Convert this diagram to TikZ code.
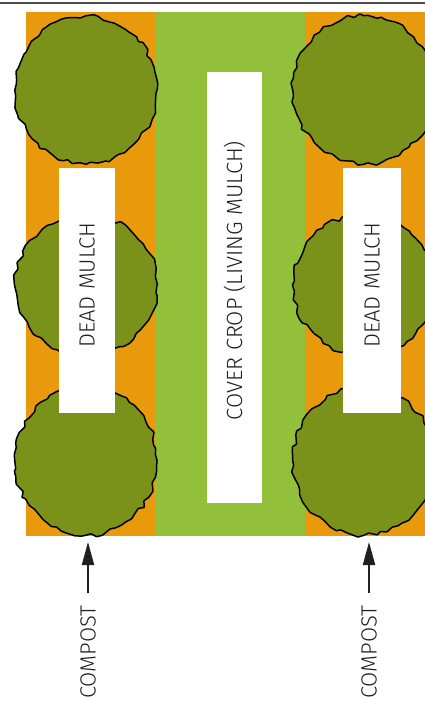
\documentclass[tikz,border=0pt]{standalone}
\usepackage{fontspec}
\setmainfont{Fira Sans}[UprightFont={* Light}]
\usetikzlibrary{arrows.meta,decorations.pathmorphing}
\definecolor{mulchorange}{HTML}{E99A0C}
\definecolor{covergreen}{HTML}{93C03B}
\definecolor{treegreen}{HTML}{7A921A}
\definecolor{inkgray}{HTML}{231F20}

\begin{document}
\begin{tikzpicture}[x=1pt,y=-1pt,
    labelbox/.style={fill=white,rotate=90,inner sep=0pt,text=inkgray,font=\fontsize{22}{24}\selectfont},
    treetop/.style={fill=treegreen,draw=black,line width=1.5pt,rounded corners=0.6pt,
        decorate,decoration={random steps,segment length=6pt,amplitude=2.2pt}},
    compostarrow/.style={-{Triangle[length=23pt,width=12pt]},line width=2pt,inkgray,shorten <=12pt}]
    \clip (0,0) rectangle (425,702);
    % rule along the top
    \draw[gray!60!black,line width=1.2pt] (0,3) -- (425,3);

    % Beds: mulch strips and the cover crop between them
    \fill[mulchorange] (26,12) rectangle (155,536);
    \fill[covergreen] (155,12) rectangle (305,536);
    \fill[mulchorange] (305,12) rectangle (425,536);

    % Tree canopies
    \pgfmathsetseed{23}
    \foreach \cx in {86,364} {
        \foreach \cy/\r in {90/74,285/70,461/74} {
            \draw[treetop] (\cx,\cy) ellipse [x radius=71, y radius=\r];
        }
    }

    % Strip labels (text sits a little above the middle of each box)
    \node[labelbox,minimum width=245,minimum height=56] (dead1) at (87,290.5) {\hspace*{11pt}DEAD MULCH};
    \node[labelbox,minimum width=245,minimum height=58] (dead2) at (372,290.5) {\hspace*{11pt}DEAD MULCH};
    \node[labelbox,minimum width=431,minimum height=55] (cover) at (234.5,287.5) {\hspace*{14pt}COVER CROP (LIVING MULCH)};

    % Compost going into the mulch strips
    \foreach \i/\x in {1/88,2/369} {
        \node[labelbox,fill=none,anchor=east] (compost\i) at (\x,605) {COMPOST};
        \coordinate (tip\i) at (\x,542);
        \draw[compostarrow] (compost\i.east) -- (tip\i);
    }
\end{tikzpicture}
\end{document}
